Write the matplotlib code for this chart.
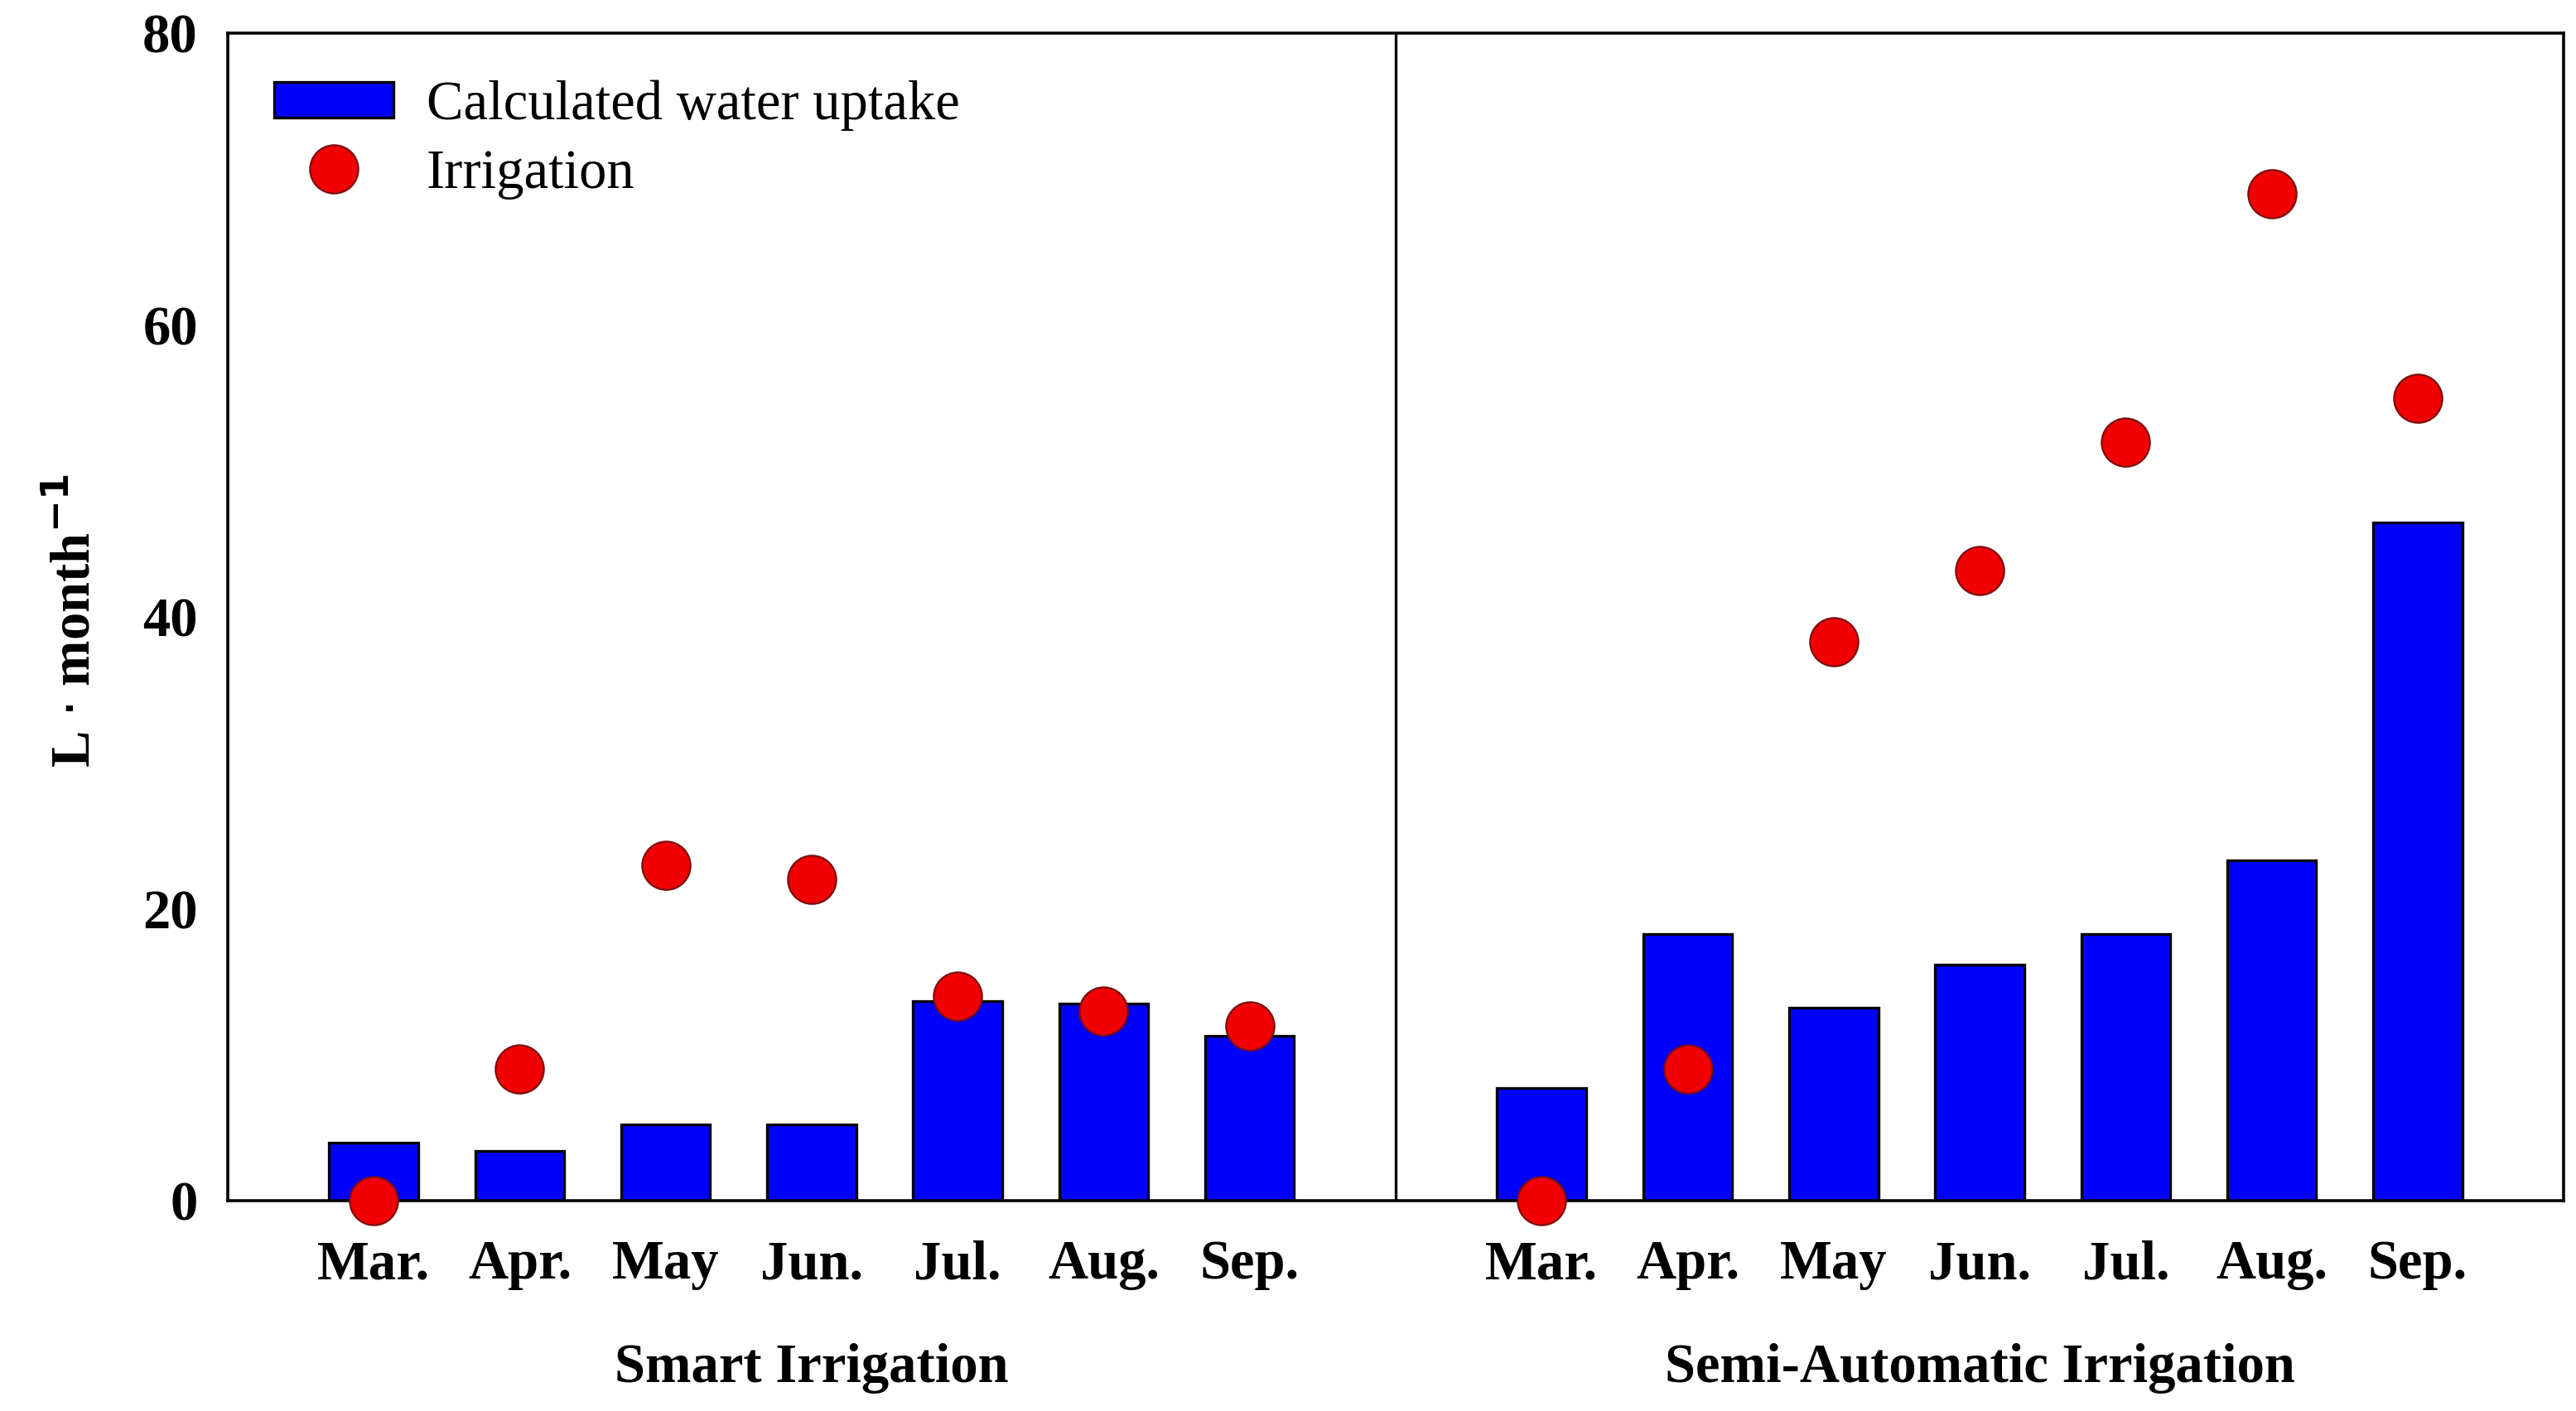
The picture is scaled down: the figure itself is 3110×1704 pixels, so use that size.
import matplotlib
matplotlib.use("Agg")
import matplotlib.pyplot as plt
from matplotlib.lines import Line2D
from matplotlib.patches import Patch
import matplotlib.transforms as mtransforms

plt.rcParams['font.family'] = ['Liberation Serif', 'DejaVu Serif']

months = ["Mar.", "Apr.", "May", "Jun.", "Jul.", "Aug.", "Sep."]
groups = ["Smart Irrigation", "Semi-Automatic Irrigation"]
smart_uptake = [4.0, 3.4, 5.2, 5.2, 13.7, 13.5, 11.3]
smart_irrigation = [0.0, 9.0, 23.0, 22.0, 14.0, 13.0, 12.0]
semi_uptake = [7.7, 18.3, 13.2, 16.2, 18.3, 23.3, 46.5]
semi_irrigation = [0.0, 9.0, 38.3, 43.2, 52.0, 69.0, 55.0]
yticks = [0, 20, 40, 60, 80]

fig = plt.figure(figsize=(15.55, 8.52), dpi=200)
ax = fig.add_axes([0.0884, 0.149, 0.9068, 0.8275])

x_smart = list(range(7))
x_semi = [i + 8 for i in range(7)]

for xs, up, irr in [(x_smart, smart_uptake, smart_irrigation), (x_semi, semi_uptake, semi_irrigation)]:
    ax.bar(xs, up, width=0.61, color='#0000FF', edgecolor='black', linewidth=1.2, zorder=2)
    ax.plot(xs, irr, linestyle='none', marker='o', markersize=21, markerfacecolor='#F00000',
            markeredgecolor='#7a1010', markeredgewidth=0.8, zorder=3, clip_on=False)

ax.axvline(7, color='black', linewidth=1.2, zorder=1)
ax.set_xlim(-1, 15)
ax.set_ylim(0, 80)
ax.set_yticks(yticks)
ax.set_yticklabels([str(v) for v in yticks], fontsize=24, fontweight='bold')
ax.set_xticks(x_smart + x_semi)
ax.set_xticklabels(months + months, fontsize=24, fontweight='bold')
ax.tick_params(axis='both', length=0)
ax.tick_params(axis='y', pad=13)
ax.tick_params(axis='x', pad=17)
for s in ax.spines.values():
    s.set_linewidth(1.3)

trans = mtransforms.blended_transform_factory(ax.transData, fig.transFigure)
ax.text(3, 0.03, groups[0], transform=trans, ha='center', va='center', fontsize=24, fontweight='bold')
ax.text(11, 0.03, groups[1], transform=trans, ha='center', va='center', fontsize=24, fontweight='bold')

fig.text(0.029, 0.56, r'L $\cdot$ month$^{\mathbf{-1}}$', rotation=90, ha='center', va='center',
         fontsize=24, fontweight='bold')

handles = [Patch(facecolor='#0000FF', edgecolor='black', linewidth=1.2),
           Line2D([], [], linestyle='none', marker='o', markersize=21, markerfacecolor='#F00000',
                  markeredgecolor='#7a1010', markeredgewidth=0.8)]
ax.legend(handles, ["Calculated water uptake", "Irrigation"], loc='upper left',
          bbox_to_anchor=(-0.006, 1.012), frameon=False, fontsize=24, handlelength=2.15,
          handleheight=0.63, handletextpad=0.6, labelspacing=0.33, borderpad=0.6)

fig.savefig("out.png", dpi=200)
